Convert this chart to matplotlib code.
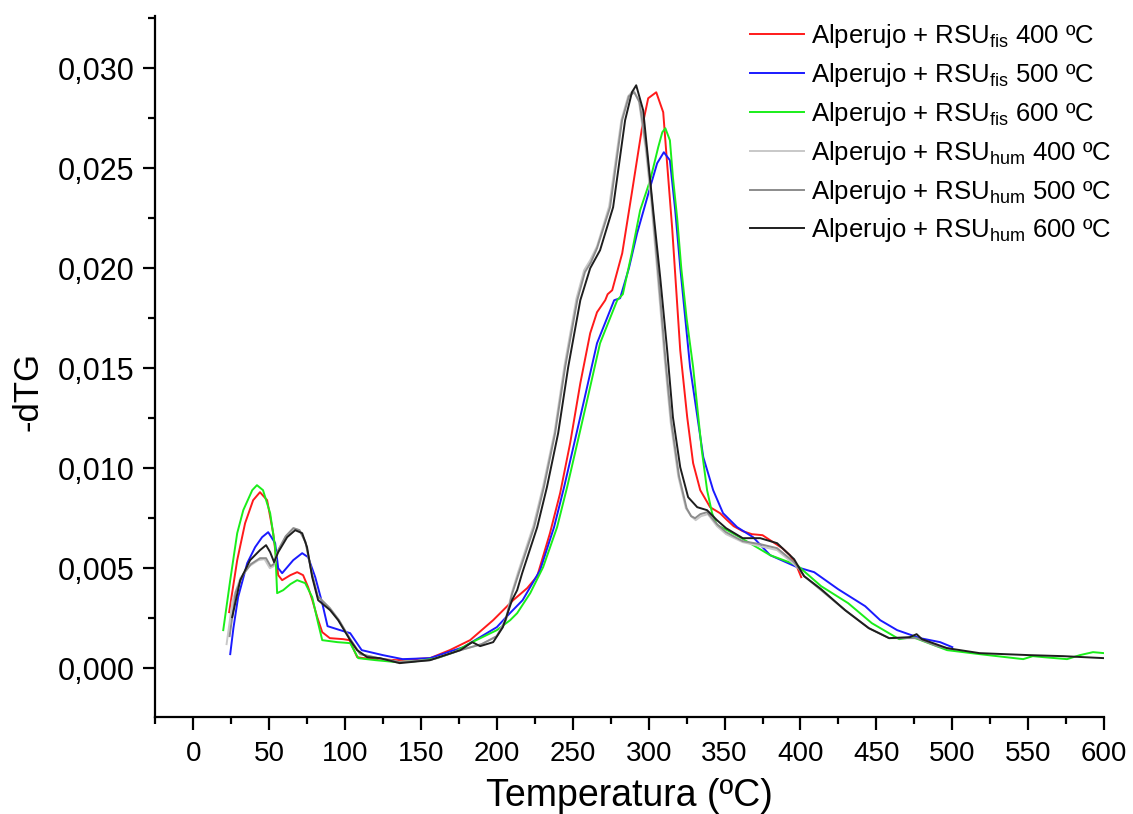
import numpy as np
import matplotlib
matplotlib.use('Agg')
import matplotlib.pyplot as plt
from matplotlib.ticker import MultipleLocator, FuncFormatter

plt.rcParams['font.family'] = ['Liberation Sans', 'DejaVu Sans']
plt.rcParams['mathtext.fontset'] = 'custom'
plt.rcParams['mathtext.rm'] = 'Liberation Sans'
plt.rcParams['mathtext.it'] = 'Liberation Sans'

# Alperujo + RSU fis 400 C
t_fis400 = [23.7, 29, 34.2, 39.5, 44, 48.7, 52.7, 56, 58.6, 64, 68.5, 72.4, 75.7, 78.5, 81.7, 85, 90, 98.8, 103,
            108, 112, 122, 134, 145, 156, 169, 182.4, 197.6, 210.8, 220, 226.6, 235, 241.7, 248.3, 255, 261.5, 266,
            271.4, 273, 276, 282.6, 289, 295.7, 299.7, 305, 309.6, 312, 315.5, 318.8, 320.8, 325.4, 329.3, 334,
            340.5, 347, 351.7, 356, 362, 368, 375, 382, 388, 393, 397, 400.5]
d_fis400 = [2.8, 5.4, 7.25, 8.4, 8.8, 8.4, 6.75, 4.65, 4.4, 4.65, 4.8, 4.65, 4.05, 3.4, 2.55, 1.8, 1.5, 1.45, 1.4,
            0.55, 0.5, 0.45, 0.4, 0.45, 0.5, 0.9, 1.4, 2.4, 3.4, 4.0, 4.6, 6.75, 8.75, 11.25, 14.25, 16.75, 17.8,
            18.4, 18.7, 18.9, 20.75, 23.8, 27.05, 28.5, 28.8, 27.8, 25.4, 22.0, 18.2, 15.9, 12.55, 10.25, 8.9,
            8.05, 7.75, 7.4, 7.1, 6.85, 6.7, 6.65, 6.3, 6.0, 5.65, 5.2, 4.55]

# Alperujo + RSU fis 500 C
t_fis500 = [24.4, 26.5, 29.6, 35.6, 40.8, 45.4, 49.4, 54, 56, 58.6, 65.9, 71.8, 75.7, 80.4, 85, 88.5, 96.8, 103.4,
            111, 125, 138, 156, 178, 200, 208, 217, 228.5, 237.7, 244.3, 251, 257.5, 266, 277.3, 281.2, 287,
            292.4, 301, 305.6, 310, 314, 317.5, 320.8, 327.3, 336, 342.5, 349, 358.3, 368.8, 380, 397.8, 409,
            424.8, 442.6, 452.5, 463.7, 478.8, 492, 500]
d_fis500 = [0.7, 2.0, 3.55, 5.25, 6.05, 6.55, 6.8, 6.25, 5.0, 4.75, 5.4, 5.75, 5.55, 4.55, 3.25, 2.1, 1.9, 1.75,
            0.9, 0.65, 0.45, 0.5, 1.05, 2.05, 2.7, 3.4, 4.9, 7.05, 9.05, 11.25, 13.4, 16.25, 18.4, 18.5, 20.0,
            21.75, 24.05, 25.25, 25.8, 25.4, 22.9, 20.05, 15.05, 10.55, 8.9, 7.75, 7.05, 6.55, 5.65, 5.05, 4.8,
            3.95, 3.1, 2.4, 1.9, 1.5, 1.3, 1.05]

# Alperujo + RSU fis 600 C
t_fis600 = [19.8, 24.4, 29, 33, 38.9, 42, 46, 50.7, 54, 55.3, 59.3, 64, 68.5, 73.8, 78.4, 82.3, 85, 95, 103.4,
            108.7, 120, 134, 147, 160.7, 172, 182.4, 200, 208.8, 213.4, 222, 230.5, 239.7, 246.3, 253, 259.5,
            268, 279.3, 283, 289, 294.4, 301, 306.3, 309, 311, 314, 316, 318.8, 321.5, 325, 329.3, 335, 338.5,
            341.8, 345, 351.7, 360, 370, 380, 397.8, 413.6, 431.4, 447, 465, 474, 496.6, 518, 546.7, 553, 560,
            575.6, 584, 592.7, 600]
d_fis600 = [1.9, 4.4, 6.75, 7.9, 8.9, 9.15, 8.9, 7.75, 6.05, 3.75, 3.9, 4.2, 4.4, 4.25, 3.55, 2.25, 1.4, 1.3, 1.25,
            0.5, 0.4, 0.3, 0.35, 0.5, 0.8, 1.25, 1.9, 2.4, 2.75, 3.75, 5.05, 7.05, 9.05, 11.25, 13.4, 16.25, 18.4,
            18.7, 20.8, 22.9, 24.4, 26.05, 26.8, 27.0, 26.4, 24.55, 22.5, 20.0, 17.5, 15.05, 10.9, 8.9, 7.75,
            7.15, 6.9, 6.55, 6.1, 5.65, 5.15, 4.1, 3.25, 2.25, 1.45, 1.55, 0.9, 0.7, 0.45, 0.6, 0.55, 0.45, 0.65,
            0.8, 0.75]

# Alperujo + RSU hum 400 C
t_hum400 = [22, 26, 31, 37, 43, 47, 50.5, 53, 56, 61, 66, 70, 74, 78, 82, 90, 96, 103, 110, 122, 136, 156, 176,
            190, 200, 206, 210, 214, 224, 230.5, 238, 244.5, 252.5, 257.5, 261.5, 266, 274, 282, 286.5, 290,
            293.5, 298, 301.5, 305.5, 310.5, 314.5, 319.5, 324.5, 328, 331, 334.5, 339, 345, 351, 362, 373.5,
            384.6, 395.8, 400]
d_hum400 = [1.2, 3.4, 4.5, 5.1, 5.4, 5.45, 5.0, 5.1, 5.9, 6.6, 7.0, 6.9, 6.3, 4.8, 3.6, 3.0, 2.4, 1.5, 0.7, 0.5,
            0.3, 0.4, 0.9, 1.2, 1.6, 2.5, 3.8, 4.8, 7.1, 9.1, 11.8, 15.1, 18.5, 19.9, 20.4, 21.1, 23.1, 27.4,
            28.6, 28.9, 28.4, 26.0, 23.5, 20.0, 15.5, 12.3, 9.6, 8.0, 7.6, 7.4, 7.6, 7.7, 7.1, 6.7, 6.3, 6.1,
            5.9, 5.2, 4.9]

# Alperujo + RSU hum 500 C
t_hum500 = [24, 28, 33, 38, 44, 48, 51, 53, 56, 61, 66, 70, 74, 78, 82, 90, 96, 103, 110, 122, 136, 156, 176,
            190, 200, 206, 210, 214.5, 224.6, 231, 238.4, 245, 253, 258, 262, 266, 274.6, 282.5, 287, 290.5,
            294, 298.5, 302, 306, 311, 315, 320, 325, 328, 330.6, 334, 338.5, 345, 351, 362, 373.5, 384.6,
            395.8, 402.4, 413.6, 429.4, 445, 458.4, 476.5, 490, 500]
d_hum500 = [1.6, 3.8, 4.7, 5.2, 5.5, 5.5, 5.1, 5.2, 5.9, 6.6, 7.0, 6.9, 6.3, 4.8, 3.6, 3.0, 2.4, 1.5, 0.7, 0.5,
            0.3, 0.4, 0.9, 1.2, 1.6, 2.4, 3.7, 4.75, 7.05, 9.05, 11.75, 15.05, 18.4, 19.8, 20.3, 21.0, 23.05,
            27.4, 28.6, 28.8, 28.3, 26.0, 23.5, 20.0, 15.5, 12.3, 9.6, 8.0, 7.6, 7.5, 7.7, 7.8, 7.2, 6.8, 6.35,
            6.2, 6.0, 5.3, 4.6, 3.9, 2.9, 2.0, 1.5, 1.5, 1.1, 0.95]

# Alperujo + RSU hum 600 C
t_hum600 = [25.7, 31, 37.5, 44, 48, 50.7, 53.3, 56, 61.9, 67.2, 71.8, 75, 78.4, 82.3, 90.2, 95.5, 103.4, 108,
            114.6, 123, 136, 156, 176, 183.8, 189, 197.6, 204, 210, 213.4, 216.7, 226.6, 233, 240.4, 247, 255,
            261.5, 268, 276.6, 284.5, 289, 291.8, 296.4, 299.7, 303, 307.6, 312.2, 316, 320.8, 326, 332, 338.5,
            345, 351, 362, 373.5, 384.6, 395.8, 402.4, 413.6, 429.4, 445, 458.4, 472, 476.5, 480, 496.6, 518,
            551, 573, 600]
d_hum600 = [2.55, 4.4, 5.4, 5.9, 6.15, 5.8, 5.3, 5.8, 6.55, 6.9, 6.75, 6.05, 4.55, 3.4, 2.9, 2.4, 1.4, 0.9, 0.55,
            0.5, 0.25, 0.4, 0.9, 1.3, 1.1, 1.3, 2.05, 3.4, 3.9, 4.75, 7.05, 9.05, 11.75, 15.05, 18.4, 20.0, 20.9,
            23.05, 27.4, 28.8, 29.15, 27.9, 25.4, 22.9, 19.55, 15.9, 12.55, 10.05, 8.55, 8.05, 7.9, 7.4, 7.0,
            6.5, 6.5, 6.25, 5.45, 4.6, 3.95, 2.9, 2.0, 1.5, 1.55, 1.7, 1.45, 1.0, 0.75, 0.65, 0.6, 0.5]

series = [
    (t_fis400, d_fis400, '#ff1a1a', 'fis', '400'),
    (t_fis500, d_fis500, '#1a1aff', 'fis', '500'),
    (t_fis600, d_fis600, '#1aee1a', 'fis', '600'),
    (t_hum400, d_hum400, '#c8c8c8', 'hum', '400'),
    (t_hum500, d_hum500, '#8c8c8c', 'hum', '500'),
    (t_hum600, d_hum600, '#1e1e1e', 'hum', '600'),
]

fig = plt.figure(figsize=(11.33, 8.14), dpi=100)
ax = fig.add_axes([0.137, 0.119, 0.8375, 0.861])

for t, d, col, sub, temp in series:
    label = 'Alperujo + RSU$_{\\mathrm{%s}}$ %s ºC' % (sub, temp)
    ax.plot(t, np.array(d) / 1000.0, color=col, lw=1.4, label=label)

ax.set_xlim(-25, 600)
ax.set_ylim(-0.00245, 0.0326)

ax.xaxis.set_major_locator(MultipleLocator(50))
ax.xaxis.set_minor_locator(MultipleLocator(25))
ax.yaxis.set_major_locator(MultipleLocator(0.005))
ax.yaxis.set_minor_locator(MultipleLocator(0.0025))
ax.yaxis.set_major_formatter(FuncFormatter(lambda v, p: ('%.3f' % v).replace('.', ',')))

for s in ['top', 'right']:
    ax.spines[s].set_visible(False)
for s in ['left', 'bottom']:
    ax.spines[s].set_linewidth(1.6)

ax.tick_params(which='major', direction='out', length=9, width=1.6)
ax.tick_params(which='minor', direction='out', length=5, width=1.6)
ax.tick_params(axis='y', labelsize=22, pad=6)
ax.tick_params(axis='x', labelsize=20, pad=8)
for lab in ax.get_xticklabels():
    lab.set_fontfamily(['Liberation Sans Narrow', 'Liberation Sans'])

ax.set_xlabel('Temperatura (ºC)', fontsize=27, labelpad=8)
ax.set_ylabel('-dTG', fontsize=25)
ax.yaxis.set_label_coords(-0.117, 0.465)

leg = ax.legend(loc='upper right', bbox_to_anchor=(1.019, 1.006), frameon=False, fontsize=18.5,
                handlelength=2.1, handletextpad=0.3, labelspacing=0.42, borderaxespad=0.0)

fig.savefig('out.png', dpi=100)
